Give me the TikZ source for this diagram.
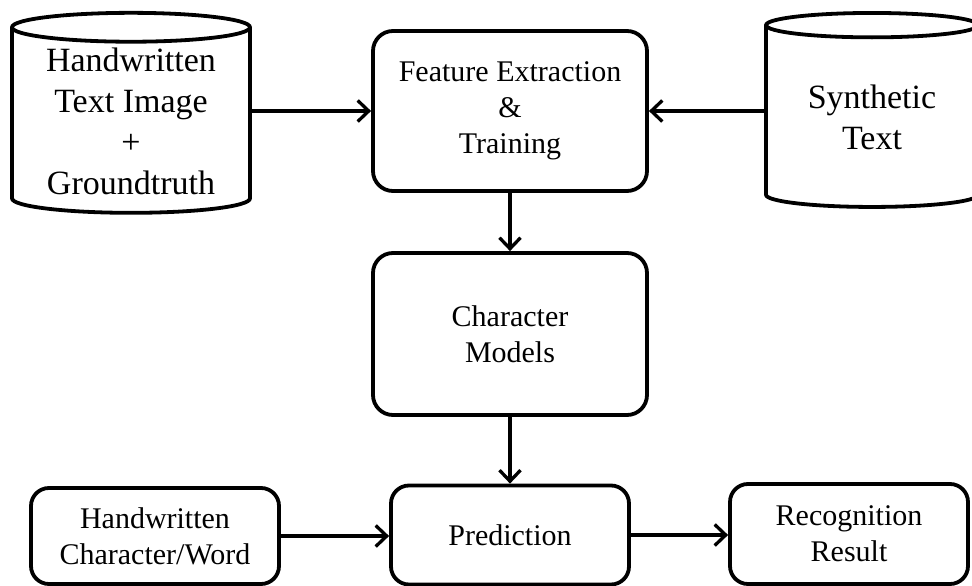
\documentclass[tikz,border=0pt]{standalone}
\usepackage{fontspec}
\setmainfont{Liberation Serif}
\usetikzlibrary{arrows.meta,positioning,shapes.geometric}

\begin{document}
\begin{tikzpicture}[x=1pt,y=-1pt,
	  block/.style={draw,line width=3.8pt,rounded corners=20pt,align=center,
	    font=\fontsize{30}{36}\selectfont,inner sep=0pt},
	  db/.style={draw,line width=3.8pt,cylinder,shape border rotate=90,align=center,
	    font=\fontsize{34}{41}\selectfont,inner sep=0pt},
	  link/.style={line width=3.3pt,-{Straight Barb[length=11pt,width=21pt,line width=3.3pt]}}]
	  \useasboundingbox (0,0) rectangle (972,586);
	  \clip (0,0) rectangle (972,586);
	  % upper row
	  \node[db,aspect=0.17,minimum width=238pt,minimum height=200pt] (hwimg) at (131,121)
	    {Handwritten\\Text Image\\+\\Groundtruth};
	  \node[block,minimum width=274pt,minimum height=160pt] (feat) at (510,111)
	    {Feature Extraction\\\&\\Training};
	  \node[db,aspect=0.19,minimum width=212pt,minimum height=194pt] (synth) at (872,117)
	    {Synthetic\\Text};
	  % middle
	  \node[block,minimum width=274pt,minimum height=162pt] (models) at (510,334)
	    {Character\\Models};
	  % lower row
	  \node[block,rounded corners=18pt,minimum width=238pt,minimum height=99pt] (predict) at (510,535)
	    {Prediction};
	  \node[block,rounded corners=18pt,minimum width=248pt,minimum height=96pt] (hwchar) at (155,536)
	    {Handwritten\\Character/Word};
	  \node[block,rounded corners=18pt,minimum width=238pt,minimum height=100pt] (result) at (849,534)
	    {Recognition\\Result};
	  % arrows
	  \draw[link] (hwimg.east |- feat) -- (feat.west);
	  \draw[link] (synth.west |- feat) -- (feat.east);
	  \draw[link] (feat) -- (models);
	  \draw[link] (models) -- (predict);
	  \draw[link] (hwchar.east) -- (hwchar.east -| predict.west);
	  \draw[link] (predict.east) -- (predict.east -| result.west);
	\end{tikzpicture}
\end{document}
